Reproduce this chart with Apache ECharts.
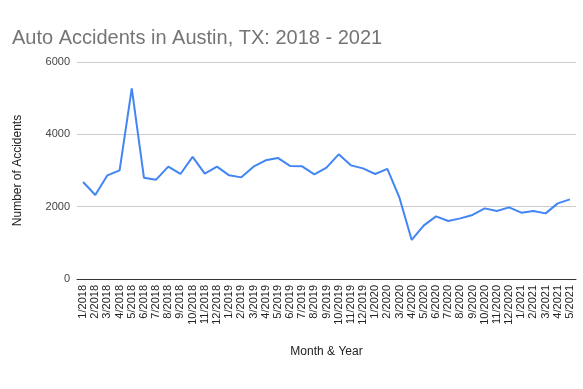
<!DOCTYPE html>
<html><head><meta charset="utf-8">
<script src="https://cdn.jsdelivr.net/npm/echarts@6/dist/echarts.min.js"></script>
<style>html,body{margin:0;padding:0;background:#fff}#c{width:583px;height:389px}</style>
</head><body><div id="c"></div>
<script>
const months = ["1/2018","2/2018","3/2018","4/2018","5/2018","6/2018","7/2018","8/2018","9/2018","10/2018","11/2018","12/2018",
"1/2019","2/2019","3/2019","4/2019","5/2019","6/2019","7/2019","8/2019","9/2019","10/2019","11/2019","12/2019",
"1/2020","2/2020","3/2020","4/2020","5/2020","6/2020","7/2020","8/2020","9/2020","10/2020","11/2020","12/2020",
"1/2021","2/2021","3/2021","4/2021","5/2021"];
const accidents = [2683,2324,2866,3004,5270,2802,2747,3106,2904,3375,2912,3106,
2866,2810,3106,3281,3347,3126,3115,2893,3079,3447,3142,3059,
2904,3043,2241,1079,1483,1732,1604,1676,1770,1953,1881,1981,
1834,1881,1815,2091,2202];
const yTicks = [0,2000,4000,6000];
const chart = echarts.init(document.getElementById('c'));
const font = '"Liberation Sans", Arial, sans-serif';
chart.setOption({
  animation:false,
  title:{text:'Auto Accidents in Austin, TX: 2018 - 2021',left:7,top:23,
    textStyle:{fontFamily:font,fontSize:20,fontWeight:'normal',color:'#757575'}},
  grid:{left:77,right:7,top:62,bottom:110},
  xAxis:{type:'category',data:months,name:'Month & Year',nameLocation:'middle',nameGap:67,
    nameTextStyle:{fontFamily:font,fontSize:12,color:'#222'},
    axisLine:{lineStyle:{color:'#333'}},axisTick:{show:false},
    axisLabel:{rotate:90,interval:0,fontFamily:font,fontSize:11,color:'#222',margin:6}},
  yAxis:{type:'value',min:yTicks[0],max:yTicks[yTicks.length-1],interval:2000,
    name:'Number of Accidents',nameLocation:'middle',nameGap:53,
    nameTextStyle:{fontFamily:font,fontSize:12,color:'#222'},
    axisLine:{show:false},axisTick:{show:false},
    axisLabel:{fontFamily:font,fontSize:11,color:'#444',margin:7,formatter:v=>String(v)},
    splitLine:{lineStyle:{color:'#cccccc'}}},
  series:[{type:'line',data:accidents,showSymbol:false,lineStyle:{color:'#4285F4',width:2},itemStyle:{color:'#4285F4'}}]
});
</script></body></html>
